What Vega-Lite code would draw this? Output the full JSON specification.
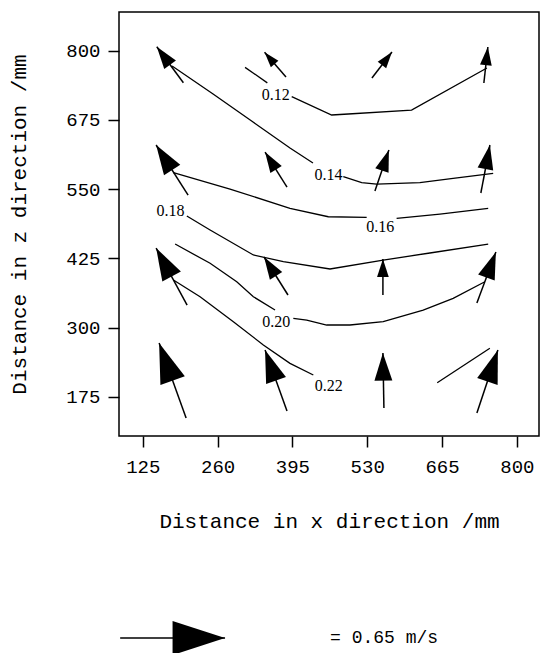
{
  "$schema": "https://vega.github.io/schema/vega-lite/v6.json",
  "width": 420,
  "height": 424,
  "autosize": {"type": "none"},
  "padding": {"left": 119, "top": 12, "right": 2, "bottom": 217},
  "background": "white",
  "config": {
    "view": {"stroke": "black", "strokeWidth": 1.5},
    "axis": {
      "domain": false,
      "grid": false,
      "ticks": true,
      "tickColor": "black",
      "tickWidth": 1.5,
      "tickSize": 11,
      "labelFont": "Liberation Mono",
      "labelFontSize": 19,
      "labelColor": "black",
      "titleFont": "Liberation Mono",
      "titleFontSize": 21,
      "titleFontWeight": "normal",
      "titleColor": "black"
    }
  },
  "datasets": {
    "contours": [
      {"seg": "0.12a", "x": 309.5, "z": 770},
      {"seg": "0.12a", "x": 349.7, "z": 742},
      {"seg": "0.12b", "x": 393.7, "z": 717},
      {"seg": "0.12b", "x": 465.8, "z": 683.9},
      {"seg": "0.12b", "x": 495.8, "z": 685.7},
      {"seg": "0.12b", "x": 610, "z": 692.9},
      {"seg": "0.12b", "x": 746, "z": 768.8},
      {"seg": "0.14a", "x": 177.8, "z": 772.4},
      {"seg": "0.14a", "x": 251.8, "z": 721.8},
      {"seg": "0.14a", "x": 323.9, "z": 671.2},
      {"seg": "0.14a", "x": 390.6, "z": 624.2},
      {"seg": "0.14a", "x": 432.1, "z": 597.2},
      {"seg": "0.14b", "x": 486.8, "z": 572.4},
      {"seg": "0.14b", "x": 520, "z": 561.6},
      {"seg": "0.14b", "x": 547, "z": 559.2},
      {"seg": "0.14b", "x": 625, "z": 561.6},
      {"seg": "0.14b", "x": 685, "z": 569.5},
      {"seg": "0.14b", "x": 757.3, "z": 578.5},
      {"seg": "0.16a", "x": 180.2, "z": 579.6},
      {"seg": "0.16a", "x": 282.4, "z": 550.2},
      {"seg": "0.16a", "x": 390.6, "z": 515.3},
      {"seg": "0.16a", "x": 459.7, "z": 500.1},
      {"seg": "0.16a", "x": 529, "z": 499},
      {"seg": "0.16b", "x": 583, "z": 497.3},
      {"seg": "0.16b", "x": 661.2, "z": 505},
      {"seg": "0.16b", "x": 748.3, "z": 515.3},
      {"seg": "0.18", "x": 204.4, "z": 501.4},
      {"seg": "0.18", "x": 246.4, "z": 476.1},
      {"seg": "0.18", "x": 324.5, "z": 431},
      {"seg": "0.18", "x": 378.6, "z": 418.9},
      {"seg": "0.18", "x": 462.8, "z": 405.7},
      {"seg": "0.18", "x": 558.9, "z": 421.9},
      {"seg": "0.18", "x": 643.1, "z": 434.6},
      {"seg": "0.18", "x": 748.3, "z": 450.8},
      {"seg": "0.20a", "x": 183.3, "z": 450.8},
      {"seg": "0.20a", "x": 246.4, "z": 416},
      {"seg": "0.20a", "x": 294.5, "z": 382.7},
      {"seg": "0.20a", "x": 324.5, "z": 355.6},
      {"seg": "0.20a", "x": 363.6, "z": 331.6},
      {"seg": "0.20b", "x": 396.6, "z": 316.6},
      {"seg": "0.20b", "x": 420.8, "z": 313.5},
      {"seg": "0.20b", "x": 456.8, "z": 304.5},
      {"seg": "0.20b", "x": 498.8, "z": 304.5},
      {"seg": "0.20b", "x": 558.9, "z": 310.5},
      {"seg": "0.20b", "x": 631, "z": 331.6},
      {"seg": "0.20b", "x": 685.1, "z": 352.7},
      {"seg": "0.20b", "x": 742.3, "z": 382.7},
      {"seg": "0.22a", "x": 180.2, "z": 385.8},
      {"seg": "0.22a", "x": 228.3, "z": 355.6},
      {"seg": "0.22a", "x": 288.4, "z": 310.5},
      {"seg": "0.22a", "x": 342.5, "z": 268.4},
      {"seg": "0.22a", "x": 390.6, "z": 235.3},
      {"seg": "0.22a", "x": 432.7, "z": 214.2},
      {"seg": "0.22b", "x": 656.3, "z": 200.3},
      {"seg": "0.22b", "x": 751.3, "z": 262.4}
    ],
    "labels": [
      {"label": "0.12", "x": 365, "z": 720},
      {"label": "0.14", "x": 460, "z": 575},
      {"label": "0.16", "x": 553.5, "z": 481},
      {"label": "0.18", "x": 175, "z": 510},
      {"label": "0.20", "x": 366, "z": 310.5},
      {"label": "0.22", "x": 460.6, "z": 195}
    ],
    "arrows": [
      {"id": "A1", "x0": 198.2, "z0": 742.2, "x1": 150.2, "z1": 807.2, "speed": 0.277, "angle": -36.5},
      {"id": "A2", "x0": 383.4, "z0": 752.5, "x1": 344.7, "z1": 797.1, "speed": 0.19, "angle": -41},
      {"id": "A3", "x0": 538.5, "z0": 750.7, "x1": 574.6, "z1": 797.7, "speed": 0.203, "angle": 37.6},
      {"id": "A4", "x0": 740.5, "z0": 741.7, "x1": 747.7, "z1": 806.7, "speed": 0.224, "angle": 6.3},
      {"id": "B1", "x0": 206.7, "z0": 539.3, "x1": 149, "z1": 629.7, "speed": 0.368, "angle": -32.6},
      {"id": "B2", "x0": 385.2, "z0": 553.8, "x1": 345.6, "z1": 617, "speed": 0.256, "angle": -32.2},
      {"id": "B3", "x0": 543.9, "z0": 546.6, "x1": 569.1, "z1": 620.6, "speed": 0.268, "angle": 18.9},
      {"id": "B4", "x0": 735.1, "z0": 543, "x1": 751.4, "z1": 629.7, "speed": 0.302, "angle": 10.6},
      {"id": "C1", "x0": 204.9, "z0": 340.6, "x1": 149, "z1": 443.6, "speed": 0.402, "angle": -28.5},
      {"id": "C2", "x0": 387, "z0": 358.7, "x1": 343.8, "z1": 427.4, "speed": 0.278, "angle": -32.3},
      {"id": "C3", "x0": 558.3, "z0": 358.7, "x1": 558.3, "z1": 423.7, "speed": 0.223, "angle": 0},
      {"id": "C4", "x0": 727.9, "z0": 344.3, "x1": 762.2, "z1": 436.4, "speed": 0.337, "angle": 20.4},
      {"id": "D1", "x0": 203.1, "z0": 136.5, "x1": 154.4, "z1": 272, "speed": 0.494, "angle": -19.8},
      {"id": "D2", "x0": 385.2, "z0": 149.2, "x1": 345.6, "z1": 259.4, "speed": 0.401, "angle": -19.8},
      {"id": "D3", "x0": 560.1, "z0": 154.6, "x1": 558.3, "z1": 253.9, "speed": 0.341, "angle": -1},
      {"id": "D4", "x0": 727.9, "z0": 145.5, "x1": 765.8, "z1": 259.4, "speed": 0.411, "angle": 18.4},
      {"id": "scale", "x0": 84.1, "z0": -261, "x1": 273.4, "z1": -261, "speed": 0.65, "angle": 90}
    ],
    "keytext": [
      {"text": "= 0.65 m/s", "x": 463, "z": -261}
    ]
  },
  "layer": [
    {
      "data": {"name": "contours"},
      "mark": {"type": "line", "color": "black", "strokeWidth": 1.3, "clip": false},
      "encoding": {
        "x": {
          "field": "x", "type": "quantitative",
          "scale": {"domain": [82, 840], "nice": false, "zero": false},
          "axis": {"values": [125, 260, 395, 530, 665, 800], "title": "Distance in x direction /mm", "labelPadding": 10, "titlePadding": 34, "offset": 0}
        },
        "y": {
          "field": "z", "type": "quantitative",
          "scale": {"domain": [104, 870], "nice": false, "zero": false},
          "axis": {"values": [175, 300, 425, 550, 675, 800], "title": "Distance in z direction /mm", "labelPadding": 8, "titlePadding": 36, "offset": 0}
        },
        "detail": {"field": "seg", "type": "nominal"}
      }
    },
    {
      "data": {"name": "labels"},
      "mark": {"type": "text", "font": "Liberation Serif", "fontSize": 16, "color": "black", "align": "center", "baseline": "middle"},
      "encoding": {
        "x": {"field": "x", "type": "quantitative"},
        "y": {"field": "z", "type": "quantitative"},
        "text": {"field": "label", "type": "nominal"}
      }
    },
    {
      "data": {"name": "arrows"},
      "mark": {"type": "rule", "color": "black", "strokeWidth": 1.5},
      "encoding": {
        "x": {"field": "x0", "type": "quantitative"},
        "y": {"field": "z0", "type": "quantitative"},
        "x2": {"field": "x1"},
        "y2": {"field": "z1"}
      }
    },
    {
      "data": {"name": "arrows"},
      "mark": {"type": "point", "shape": "M0,0 L-0.65,2 L0.65,2 Z", "filled": true, "color": "black", "opacity": 1, "strokeWidth": 0},
      "encoding": {
        "x": {"field": "x1", "type": "quantitative"},
        "y": {"field": "z1", "type": "quantitative"},
        "angle": {"field": "angle", "type": "quantitative", "scale": null},
        "size": {"field": "speed", "type": "quantitative", "scale": {"type": "pow", "exponent": 2, "domain": [0, 0.65], "range": [0, 2757]}, "legend": null}
      }
    },
    {
      "data": {"name": "keytext"},
      "mark": {"type": "text", "font": "Liberation Mono", "fontSize": 18, "color": "black", "align": "left", "baseline": "middle"},
      "encoding": {
        "x": {"field": "x", "type": "quantitative"},
        "y": {"field": "z", "type": "quantitative"},
        "text": {"field": "text", "type": "nominal"}
      }
    }
  ]
}
